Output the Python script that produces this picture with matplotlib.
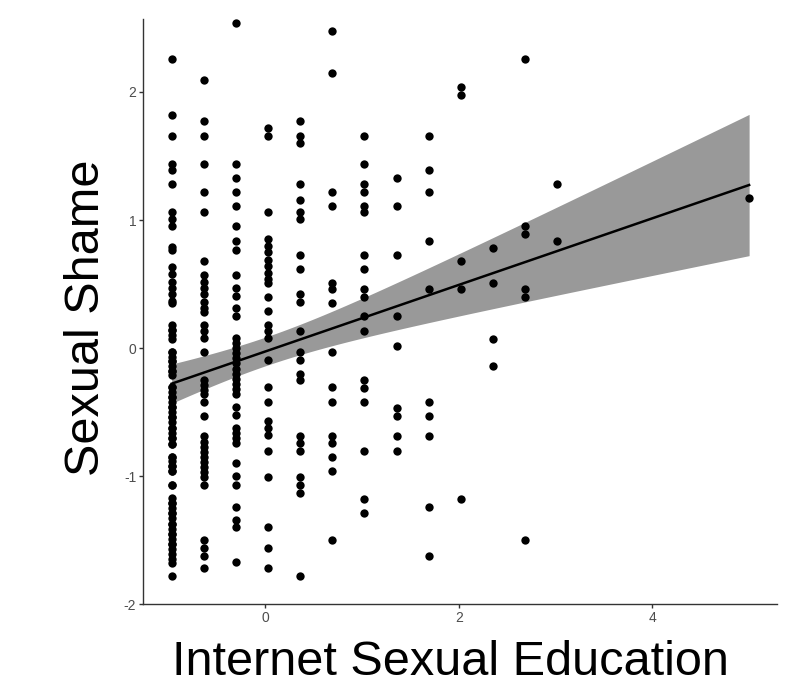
import numpy as np
from matplotlib import pyplot as plt

plt.rcParams['font.family'] = ['Liberation Sans', 'DejaVu Sans']
plt.rcParams['axes.unicode_minus'] = False

# x positions of the answer levels (Internet Sexual Education, standardised)
edu_levels = [-0.97, -0.64, -0.30, 0.03, 0.36, 0.69, 1.02, 1.36, 1.69, 2.02, 2.35, 2.68, 3.01, 5.0]

# sexual shame values at each level (last row of level 1 = overlapping duplicates)
shame_l1 = [2.26, 1.82, 1.66, 1.44, 1.39, 1.28, 1.06, 1.01, 0.95, 0.79, 0.77,
            0.63, 0.58, 0.52, 0.47, 0.42, 0.37, 0.35,
            0.18, 0.14, 0.10, 0.07,
            -0.03, -0.07, -0.10, -0.14, -0.18, -0.21,
            -0.30, -0.34, -0.38, -0.42, -0.46, -0.50, -0.54, -0.58, -0.62, -0.66, -0.70, -0.75,
            -0.85, -0.88, -0.92, -0.96, -1.07,
            -1.17, -1.21, -1.25, -1.29, -1.33, -1.37, -1.41, -1.45, -1.49, -1.53, -1.57, -1.61, -1.65, -1.68,
            -1.78,
            -0.03, -0.10, -0.18, -0.30, -0.38, -0.46, -0.54, -0.62, -0.70, -0.75,
            -0.85, -0.92, -0.96, -1.07, -1.21, -1.29, -1.37, -1.45, -1.53, 0.14]
shame_l2 = [2.09, 1.77, 1.66, 1.44, 1.22, 1.06, 0.68,
            0.57, 0.52, 0.47, 0.42, 0.36, 0.31, 0.28,
            0.18, 0.13, 0.08, -0.03,
            -0.25, -0.29, -0.33, -0.36, -0.42, -0.53,
            -0.69, -0.73, -0.77, -0.81, -0.85, -0.89, -0.93, -0.97, -1.01, -1.07,
            -1.50, -1.56, -1.62, -1.72]
shame_l3 = [2.54, 1.44, 1.33, 1.22, 1.11, 0.95, 0.84, 0.77, 0.57, 0.47, 0.41, 0.31, 0.25,
            0.08, 0.04, 0.00, -0.04, -0.08, -0.12, -0.16, -0.20, -0.24, -0.28, -0.32, -0.36,
            -0.46, -0.52, -0.62, -0.66, -0.70, -0.74,
            -0.90, -1.00, -1.07, -1.24, -1.34, -1.40, -1.67]
shame_l4 = [1.72, 1.66, 1.06, 0.85, 0.80, 0.75, 0.69, 0.64, 0.59, 0.54, 0.51, 0.40, 0.29,
            0.18, 0.13, 0.08, -0.09, -0.30, -0.42, -0.57, -0.62, -0.68, -0.80, -1.01,
            -1.40, -1.56, -1.72]
shame_l5 = [1.77, 1.66, 1.60, 1.28, 1.16, 1.06, 1.01, 0.73, 0.62, 0.42, 0.36, 0.13,
            -0.03, -0.09, -0.20, -0.25, -0.69, -0.74, -0.80, -1.01, -1.07, -1.13, -1.78]
shame_l6 = [2.48, 2.15, 1.22, 1.11, 0.51, 0.46, 0.35, -0.03, -0.30, -0.42, -0.69, -0.74,
            -0.85, -0.96, -1.50]
shame_l7 = [1.66, 1.44, 1.28, 1.22, 1.11, 1.06, 0.73, 0.62, 0.46, 0.40, 0.25, 0.13,
            -0.25, -0.31, -0.42, -0.80, -1.18, -1.29]
shame_l8 = [1.33, 1.11, 0.73, 0.25, 0.02, -0.47, -0.53, -0.69, -0.80]
shame_l9 = [1.66, 1.39, 1.22, 0.84, 0.46, -0.42, -0.53, -0.69, -1.24, -1.62]
shame_l10 = [2.04, 1.98, 0.68, 0.46, -1.18]
shame_l11 = [0.78, 0.51, 0.07, -0.14]
shame_l12 = [2.26, 0.95, 0.89, 0.46, 0.40, -1.50]
shame_l13 = [1.28, 0.84]
shame_l14 = [1.17]

groups = [shame_l1, shame_l2, shame_l3, shame_l4, shame_l5, shame_l6, shame_l7,
          shame_l8, shame_l9, shame_l10, shame_l11, shame_l12, shame_l13, shame_l14]
x = np.concatenate([[lv] * len(g) for lv, g in zip(edu_levels, groups)])
y = np.concatenate(groups)

# linear fit + 95% CI (like geom_smooth(method="lm"))
n = len(x)
b, a = np.polyfit(x, y, 1)
resid = y - (a + b * x)
s = np.sqrt(np.sum(resid ** 2) / (n - 2))
sxx = np.sum((x - x.mean()) ** 2)
xg = np.linspace(x.min(), x.max(), 100)
yg = a + b * xg
se = s * np.sqrt(1 / n + (xg - x.mean()) ** 2 / sxx)

fig = plt.figure(figsize=(7.89, 6.88), dpi=100)
ax = fig.add_axes([0.1816, 0.1217, 0.8034, 0.8507])

ax.fill_between(xg, yg - 1.97 * se, yg + 1.97 * se, color='#999999', lw=0, zorder=1)
ax.scatter(x, y, s=36, color='black', lw=0, zorder=2)
ax.plot(xg, yg, color='black', lw=1.8, zorder=3)

ax.set_xlim(-1.263, 5.29)
ax.set_ylim(-2.0, 2.57)
ax.set_xticks([0, 2, 4])
ax.set_yticks([-2, -1, 0, 1, 2])
for side in ['top', 'right']:
    ax.spines[side].set_visible(False)
for side in ['left', 'bottom']:
    ax.spines[side].set_color('#333333')
    ax.spines[side].set_linewidth(1.0)
ax.tick_params(length=3, width=1, color='#333333', labelsize=10, labelcolor='#4d4d4d', pad=2)

ax.set_xlabel('Internet Sexual Education', fontsize=35, labelpad=11)
ax.xaxis.label.set_x(0.484)
ax.set_ylabel('Sexual Shame', fontsize=35, labelpad=11)
ax.yaxis.label.set_y(0.49)

plt.savefig('out.png', dpi=100)
